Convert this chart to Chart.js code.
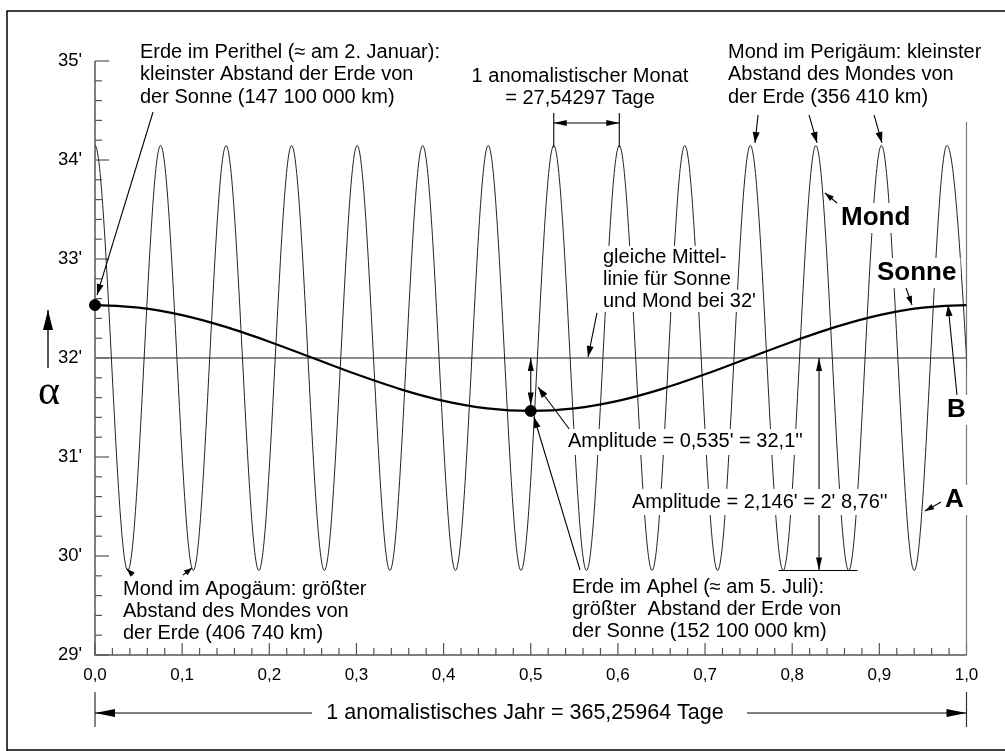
<!doctype html>
<html lang="de">
<head>
<meta charset="utf-8">
<title>Scheinbarer Durchmesser von Sonne und Mond</title>
<style>
  * { margin: 0; padding: 0; }
  body { background: #fff; }
  .chartBox { width: 1005px; height: 751px; }
</style>
</head>
<body>
<div class="chartBox"><canvas id="myChart" width="1005" height="751"></canvas></div>
<script src="https://cdn.jsdelivr.net/npm/chart.js/dist/chart.umd.min.js"></script>
<script>
  // values (x in anomalistic years, y in arc minutes)
  const moonX = [-0.0376, 0, 0.0376, 0.0752, 0.1128, 0.1504, 0.1880, 0.2256, 0.2632, 0.3008,
    0.3384, 0.3760, 0.4136, 0.4512, 0.4888, 0.5264, 0.5640, 0.6016, 0.6392, 0.6768,
    0.7144, 0.7520, 0.7896, 0.8272, 0.8648, 0.9024, 0.9400, 0.9776, 1.0152];
  const moonY = [29.854, 34.146, 29.854, 34.146, 29.854, 34.146, 29.854, 34.146, 29.854, 34.146,
    29.854, 34.146, 29.854, 34.146, 29.854, 34.146, 29.854, 34.146, 29.854, 34.146,
    29.854, 34.146, 29.854, 34.146, 29.854, 34.146, 29.854, 34.146, 29.854];

  const sunX = [-0.05, 0, 0.05, 0.1, 0.15, 0.2, 0.25, 0.3, 0.35, 0.4, 0.45, 0.5,
    0.55, 0.6, 0.65, 0.7, 0.75, 0.8, 0.85, 0.9, 0.95, 1.0, 1.05];
  const sunY = [32.509, 32.535, 32.509, 32.433, 32.314, 32.165, 32.000, 31.835, 31.686, 31.567, 31.491, 31.465,
    31.491, 31.567, 31.686, 31.835, 32.000, 32.165, 32.314, 32.433, 32.509, 32.535, 32.509];

  const dotX = [0, 0.5];
  const dotY = [32.535, 31.465];

  const meanX = [0, 1];
  const meanY = [32, 32];

  const endX = [1, 1];
  const endY = [34.384, 29];

  const toPoints = (xs, ys) => xs.map((v, i) => ({ x: v, y: ys[i] }));

  Chart.defaults.font.family = "'Liberation Sans', Arial, sans-serif";
  Chart.defaults.color = '#000';

  function arrowHead(ctx, x1, y1, x2, y2, len, half) {
    const a = Math.atan2(y2 - y1, x2 - x1);
    ctx.beginPath();
    ctx.moveTo(x2, y2);
    ctx.lineTo(x2 - len * Math.cos(a) + half * Math.sin(a), y2 - len * Math.sin(a) - half * Math.cos(a));
    ctx.lineTo(x2 - len * Math.cos(a) - half * Math.sin(a), y2 - len * Math.sin(a) + half * Math.cos(a));
    ctx.closePath();
    ctx.fill();
  }

  function arrow(ctx, x1, y1, x2, y2, both, len = 11, half = 3.5) {
    ctx.beginPath();
    ctx.moveTo(x1, y1);
    ctx.lineTo(x2, y2);
    ctx.stroke();
    arrowHead(ctx, x1, y1, x2, y2, len, half);
    if (both) arrowHead(ctx, x2, y2, x1, y1, len, half);
  }

  function textBlock(ctx, lines, px, py, opt) {
    const lh = opt.lh || 22.5;
    ctx.font = opt.font || "20px 'Liberation Sans', Arial, sans-serif";
    ctx.textAlign = opt.align || 'left';
    ctx.textBaseline = 'middle';
    lines.forEach((line, i) => {
      const ly = py + i * lh;
      if (opt.bg) {
        const w = ctx.measureText(line).width;
        const lx = opt.align === 'center' ? px - w / 2 : px;
        ctx.fillStyle = '#fff';
        ctx.fillRect(lx - 4, ly - (opt.bh || lh) / 2, w + 8, opt.bh || lh);
      }
      ctx.fillStyle = '#000';
      ctx.fillText(line, px, ly);
    });
  }

  // axes with inward ticks and the outer frame
  const axesPlugin = {
    id: 'axesPlugin',
    beforeDatasetsDraw(chart) {
      const { ctx, chartArea: { left, right, top, bottom }, scales: { x, y } } = chart;
      ctx.save();
      ctx.strokeStyle = '#555';
      ctx.lineWidth = 1.5;
      ctx.beginPath();
      ctx.moveTo(left, top);
      ctx.lineTo(left, bottom);
      ctx.lineTo(right, bottom);
      ctx.stroke();
      ctx.lineWidth = 1.2;
      for (let i = 0; i <= 30; i++) {
        const py = y.getPixelForValue(29 + i * 0.2);
        const len = i % 5 === 0 ? 14 : 7;
        ctx.beginPath();
        ctx.moveTo(left, py);
        ctx.lineTo(left + len, py);
        ctx.stroke();
      }
      for (let i = 0; i <= 50; i++) {
        const px = x.getPixelForValue(i * 0.02);
        const len = i % 5 === 0 ? 12 : 7;
        ctx.beginPath();
        ctx.moveTo(px, bottom);
        ctx.lineTo(px, bottom - len);
        ctx.stroke();
      }
      ctx.restore();
    },
    afterDraw(chart) {
      const { ctx, scales: { x } } = chart;
      ctx.save();
      ctx.strokeStyle = '#000';
      ctx.fillStyle = '#000';
      ctx.lineWidth = 1.5;
      // frame
      ctx.beginPath();
      ctx.moveTo(7, 751);
      ctx.lineTo(7, 11);
      ctx.lineTo(1005, 11);
      ctx.moveTo(7, 750);
      ctx.lineTo(1005, 750);
      ctx.stroke();

      // alpha label with arrow
      ctx.lineWidth = 1.3;
      arrow(ctx, 48, 368, 48, 310, false, 20, 5);
      ctx.font = "42px 'Liberation Serif', serif";
      ctx.textAlign = 'center';
      ctx.textBaseline = 'middle';
      ctx.fillText('α', 49, 393);

      // year span below the axis
      const x0 = x.getPixelForValue(0);
      const x1 = x.getPixelForValue(1);
      ctx.lineWidth = 1.2;
      ctx.strokeStyle = '#333';
      ctx.beginPath();
      ctx.moveTo(x0, 692); ctx.lineTo(x0, 727);
      ctx.moveTo(x1, 692); ctx.lineTo(x1, 727);
      ctx.stroke();
      ctx.strokeStyle = '#000';
      arrow(ctx, 312, 713, x0, 713, false, 20, 4);
      arrow(ctx, 747, 713, x1, 713, false, 20, 4);
      textBlock(ctx, ['1 anomalistisches Jahr = 365,25964 Tage'], 525, 713,
        { align: 'center', font: "21.5px 'Liberation Sans', Arial, sans-serif" });
      ctx.restore();
    }
  };

  // arrows and explanatory texts inside the plot
  const notesPlugin = {
    id: 'notesPlugin',
    afterDatasetsDraw(chart) {
      const { ctx, scales: { x, y } } = chart;
      const X = v => x.getPixelForValue(v);
      const Y = v => y.getPixelForValue(v);
      const A = (a, b, c, d, both, len, half) => arrow(ctx, X(a), Y(b), X(c), Y(d), both, len, half);
      const bold = "bold 26px 'Liberation Sans', Arial, sans-serif";

      ctx.save();
      ctx.strokeStyle = '#000';
      ctx.fillStyle = '#000';
      ctx.lineWidth = 1.1;

      // Perithel
      A(0.0666, 34.485, 0.0023, 32.636);
      // anomalistischer Monat
      ctx.beginPath();
      ctx.moveTo(X(0.5264), Y(34.475)); ctx.lineTo(X(0.5264), Y(34.13));
      ctx.moveTo(X(0.6016), Y(34.475)); ctx.lineTo(X(0.6016), Y(34.13));
      ctx.stroke();
      A(0.5264, 34.374, 0.6016, 34.374, true, 13, 3);
      // Perigaeum
      A(0.7608, 34.455, 0.7573, 34.172);
      A(0.8193, 34.455, 0.8285, 34.172);
      A(0.8939, 34.455, 0.9030, 34.172);
      // Mond, Sonne, B, A
      A(0.8514, 33.566, 0.8376, 33.667, false, 9, 3);
      A(0.9306, 32.707, 0.9375, 32.535, false, 9, 3);
      A(0.9891, 31.626, 0.9788, 32.535, false, 11, 3.5);
      A(0.9730, 30.556, 0.9524, 30.455, false, 9, 3);
      // Mittellinie
      A(0.5760, 32.455, 0.5657, 32.01);
      // Sun amplitude
      A(0.5, 32.0, 0.5, 31.52, true, 13, 3);
      A(0.5450, 31.273, 0.5083, 31.707);
      // Aphel
      A(0.5565, 29.859, 0.5037, 31.404);
      // Moon amplitude
      A(0.8308, 32.0, 0.8308, 29.854, true, 13, 3);
      ctx.beginPath();
      ctx.moveTo(X(0.7843), Y(29.854)); ctx.lineTo(X(0.8749), Y(29.854));
      ctx.stroke();
      // Apogaeum
      A(0.0436, 29.808, 0.0367, 29.869, false, 8, 3);
      A(0.1010, 29.808, 0.1113, 29.879, false, 8, 3);

      textBlock(ctx, ['Erde im Perithel (≈ am 2. Januar):', 'kleinster Abstand der Erde von', 'der Sonne (147 100 000 km)'],
        X(0.0516), Y(35.091), {});
      textBlock(ctx, ['1 anomalistischer Monat', '= 27,54297 Tage'], X(0.5565), Y(34.848), { align: 'center' });
      textBlock(ctx, ['Mond im Perigäum: kleinster', 'Abstand des Mondes von', 'der Erde (356 410 km)'],
        X(0.7263), Y(35.091), {});
      textBlock(ctx, ['Mond'], X(0.8560), Y(33.414), { font: bold, bg: true, bh: 30 });
      textBlock(ctx, ['Sonne'], X(0.8973), Y(32.859), { font: bold, bg: true, bh: 30 });
      textBlock(ctx, ['B'], X(0.9776), Y(31.475), { font: bold, bg: true, bh: 30 });
      textBlock(ctx, ['A'], X(0.9753), Y(30.566), { font: bold, bg: true, bh: 30 });
      textBlock(ctx, ['gleiche Mittel-', 'linie für Sonne', 'und Mond bei 32\''], X(0.5829), Y(33.02), { bg: true, lh: 22 });
      textBlock(ctx, ['Amplitude = 0,535\' = 32,1\'\''], X(0.5427), Y(31.152), { bg: true, bh: 26 });
      textBlock(ctx, ['Amplitude = 2,146\' = 2\' 8,76\'\''], X(0.6162), Y(30.545), { bg: true, bh: 26 });
      textBlock(ctx, ['Erde im Aphel (≈ am 5. Juli):', 'größter  Abstand der Erde von', 'der Sonne (152 100 000 km)'],
        X(0.5473), Y(29.677), { lh: 22 });
      textBlock(ctx, ['Mond im Apogäum: größter', 'Abstand des Mondes von', 'der Erde (406 740 km)'],
        X(0.0321), Y(29.657), { lh: 22 });
      ctx.restore();
    }
  };

  const data = {
    datasets: [
      {
        label: 'Perithel / Aphel',
        data: toPoints(dotX, dotY),
        showLine: false,
        pointRadius: 5.5,
        pointBackgroundColor: '#000',
        pointBorderColor: '#000',
        clip: 10
      },
      {
        label: 'Sonne',
        data: toPoints(sunX, sunY),
        borderColor: '#000',
        borderWidth: 2.2,
        cubicInterpolationMode: 'monotone',
        pointRadius: 0
      },
      {
        label: 'Mond',
        data: toPoints(moonX, moonY),
        borderColor: '#222',
        borderWidth: 1,
        cubicInterpolationMode: 'monotone',
        pointRadius: 0
      },
      {
        label: 'Mittellinie',
        data: toPoints(meanX, meanY),
        borderColor: '#666',
        borderWidth: 1.5,
        pointRadius: 0,
        clip: 2
      },
      {
        label: 'Ende',
        data: toPoints(endX, endY),
        borderColor: '#777',
        borderWidth: 1.2,
        pointRadius: 0,
        clip: 3
      }
    ]
  };

  const config = {
    type: 'line',
    data,
    options: {
      responsive: false,
      animation: false,
      events: [],
      layout: { padding: { left: 0, top: 61, right: 38.5, bottom: 56 } },
      plugins: {
        legend: { display: false },
        tooltip: { enabled: false }
      },
      scales: {
        x: {
          type: 'linear',
          min: 0,
          max: 1,
          grid: { display: false },
          border: { display: false },
          ticks: {
            stepSize: 0.1,
            padding: 2,
            maxRotation: 0,
            autoSkip: false,
            font: { size: 17 },
            callback: v => v.toFixed(1).replace('.', ',')
          },
          afterFit: s => { s.height = 40; }
        },
        y: {
          min: 29,
          max: 35,
          grid: { display: false },
          border: { display: false },
          ticks: {
            stepSize: 1,
            padding: 5,
            font: { size: 18.5 },
            callback: v => v + '\''
          },
          afterFit: s => { s.width = 95; }
        }
      }
    },
    plugins: [axesPlugin, notesPlugin]
  };

  const myChart = new Chart(document.getElementById('myChart'), config);
</script>
</body>
</html>
